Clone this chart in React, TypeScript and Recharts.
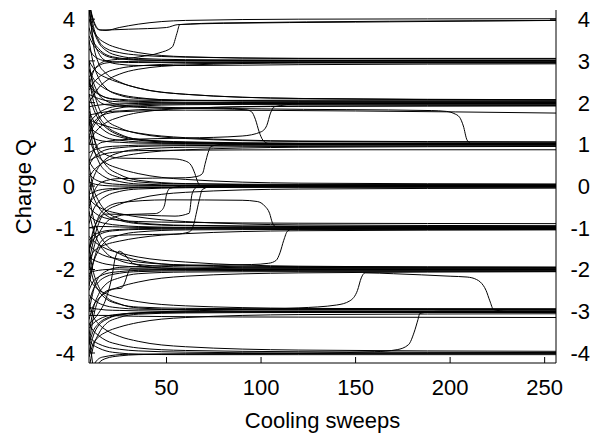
import React from 'react';
import { LineChart, Line, XAxis, YAxis } from 'recharts';

type Pair = [number, number];

// sweeps at which the ordinary (non-tunnelling) runs were read off
const sweepGrid = [9, 11, 14, 18, 25, 35, 60, 120, 256];

const xTicks = [50, 100, 150, 200, 250];
const yTicks = [-4, -3, -2, -1, 0, 1, 2, 3, 4];

// runs that settle on a plateau, values at sweepGrid
const settleTo3 = [
  [4.5, 3.9, 3.5, 3.3, 3.2, 3.14, 3.09, 3.06, 3.05],
  [4.2, 3.8, 3.45, 3.25, 3.12, 3.06, 3.03, 3.02, 3.02],
  [3.8, 3.5, 3.3, 3.15, 3.07, 3.03, 3.0, 2.99, 2.99],
  [3.3, 3.15, 3.05, 3.0, 2.97, 2.96, 2.96, 2.96, 2.96],
  [2.3, 2.45, 2.6, 2.72, 2.82, 2.88, 2.93, 2.96, 2.97],
  [2.6, 2.75, 2.88, 2.95, 2.98, 2.99, 3.0, 3.0, 3.0],
  [4.3, 3.6, 3.2, 3.0, 2.92, 2.89, 2.89, 2.91, 2.93],
  [4.0, 3.75, 3.55, 3.42, 3.3, 3.2, 3.1, 3.06, 3.06],
  [2.0, 2.15, 2.35, 2.52, 2.68, 2.8, 2.9, 2.95, 2.95],
  [3.6, 3.4, 3.25, 3.12, 3.05, 3.02, 3.01, 3.01, 3.01],
];

const settleTo2 = [
  [4.4, 3.5, 2.95, 2.7, 2.5, 2.35, 2.2, 2.1, 2.07],
  [3.0, 2.85, 2.7, 2.6, 2.48, 2.35, 2.2, 2.1, 2.06],
  [2.8, 2.6, 2.45, 2.32, 2.2, 2.12, 2.05, 2.03, 2.03],
  [2.5, 2.35, 2.22, 2.12, 2.06, 2.03, 2.01, 2.0, 2.0],
  [2.2, 2.15, 2.1, 2.05, 2.02, 2.01, 1.99, 1.98, 1.98],
  [1.5, 1.62, 1.75, 1.85, 1.92, 1.95, 1.97, 1.97, 1.97],
  [1.2, 1.4, 1.6, 1.76, 1.87, 1.92, 1.95, 1.96, 1.96],
  [1.9, 1.92, 1.94, 1.96, 1.97, 1.98, 1.99, 1.99, 1.99],
  [3.5, 3.0, 2.6, 2.35, 2.18, 2.1, 2.06, 2.04, 2.04],
  [1.0, 1.2, 1.38, 1.52, 1.65, 1.76, 1.86, 1.92, 1.93],
  [2.4, 2.3, 2.2, 2.12, 2.08, 2.06, 2.05, 2.06, 2.07],
  [1.7, 1.72, 1.75, 1.78, 1.8, 1.83, 1.87, 1.91, 1.92],
];

const settleTo1 = [
  [3.0, 2.4, 1.9, 1.6, 1.4, 1.26, 1.14, 1.07, 1.05],
  [2.2, 1.9, 1.6, 1.4, 1.22, 1.12, 1.05, 1.02, 1.02],
  [1.8, 1.6, 1.45, 1.3, 1.18, 1.1, 1.04, 1.01, 1.0],
  [1.5, 1.35, 1.25, 1.16, 1.1, 1.06, 1.03, 1.01, 1.0],
  [0.2, 0.35, 0.48, 0.6, 0.7, 0.78, 0.87, 0.93, 0.95],
  [0.5, 0.65, 0.78, 0.87, 0.92, 0.95, 0.97, 0.98, 0.98],
  [0.8, 0.85, 0.9, 0.94, 0.96, 0.98, 0.99, 0.99, 0.99],
  [1.2, 1.15, 1.1, 1.07, 1.05, 1.03, 1.02, 1.01, 1.01],
  [2.6, 2.1, 1.7, 1.45, 1.25, 1.12, 1.06, 1.03, 1.03],
  [-0.2, 0.15, 0.45, 0.65, 0.8, 0.88, 0.93, 0.95, 0.96],
  [0.6, 0.66, 0.72, 0.78, 0.82, 0.85, 0.86, 0.87, 0.87],
  [1.6, 1.55, 1.5, 1.44, 1.36, 1.27, 1.16, 1.08, 1.06],
];

const settleTo0 = [
  [2.0, 1.3, 0.8, 0.5, 0.28, 0.14, 0.06, 0.04, 0.04],
  [1.2, 0.9, 0.7, 0.55, 0.42, 0.3, 0.16, 0.07, 0.05],
  [0.6, 0.45, 0.32, 0.2, 0.11, 0.05, 0.02, 0.0, 0.0],
  [0.3, 0.2, 0.12, 0.07, 0.04, 0.02, 0.01, 0.0, -0.01],
  [-0.4, -0.3, -0.2, -0.12, -0.07, -0.04, -0.03, -0.03, -0.03],
  [-0.9, -0.6, -0.38, -0.24, -0.13, -0.07, -0.04, -0.02, -0.02],
  [-1.5, -1.1, -0.8, -0.6, -0.44, -0.3, -0.15, -0.07, -0.05],
  [0.1, 0.06, 0.03, 0.01, 0.0, 0.0, 0.01, 0.01, 0.01],
  [1.6, 1.0, 0.6, 0.35, 0.2, 0.1, 0.05, 0.03, 0.03],
  [-0.2, -0.15, -0.1, -0.07, -0.05, -0.03, -0.02, -0.01, -0.01],
];

const settleToMinus1 = [
  [0.5, 0.0, -0.35, -0.6, -0.78, -0.88, -0.94, -0.96, -0.96],
  [-0.3, -0.4, -0.5, -0.58, -0.66, -0.74, -0.85, -0.93, -0.95],
  [-0.7, -0.78, -0.85, -0.9, -0.94, -0.97, -0.99, -1.0, -1.0],
  [-1.3, -1.2, -1.12, -1.07, -1.04, -1.02, -1.01, -1.01, -1.01],
  [-1.8, -1.6, -1.48, -1.4, -1.32, -1.24, -1.14, -1.07, -1.05],
  [-2.4, -1.9, -1.55, -1.32, -1.18, -1.1, -1.05, -1.04, -1.04],
  [-1.0, -0.98, -0.97, -0.97, -0.98, -0.99, -1.0, -1.0, -1.0],
  [0.2, -0.2, -0.5, -0.7, -0.82, -0.9, -0.95, -0.97, -0.97],
  [-1.5, -1.3, -1.18, -1.1, -1.06, -1.04, -1.03, -1.02, -1.02],
  [-0.5, -0.6, -0.7, -0.77, -0.82, -0.85, -0.87, -0.89, -0.9],
];

const settleToMinus2 = [
  [-0.6, -1.0, -1.35, -1.6, -1.78, -1.88, -1.94, -1.96, -1.96],
  [-1.2, -1.3, -1.4, -1.5, -1.6, -1.7, -1.82, -1.92, -1.95],
  [-1.7, -1.76, -1.82, -1.87, -1.91, -1.94, -1.97, -1.99, -1.99],
  [-2.5, -2.3, -2.18, -2.1, -2.05, -2.02, -2.01, -2.0, -2.0],
  [-3.2, -2.9, -2.7, -2.55, -2.42, -2.3, -2.16, -2.08, -2.05],
  [-3.6, -3.0, -2.6, -2.35, -2.2, -2.1, -2.06, -2.05, -2.05],
  [-2.1, -2.05, -2.02, -2.0, -1.99, -1.99, -1.99, -1.98, -1.98],
  [-1.4, -1.5, -1.6, -1.68, -1.75, -1.82, -1.89, -1.93, -1.94],
  [-2.8, -2.5, -2.3, -2.17, -2.09, -2.05, -2.03, -2.02, -2.02],
  [-0.2, -0.7, -1.1, -1.4, -1.62, -1.78, -1.9, -1.95, -1.96],
];

const settleToMinus3 = [
  [-1.5, -2.0, -2.4, -2.65, -2.82, -2.92, -2.96, -2.97, -2.97],
  [-2.2, -2.35, -2.48, -2.58, -2.68, -2.77, -2.87, -2.93, -2.95],
  [-3.8, -3.5, -3.3, -3.17, -3.09, -3.05, -3.02, -3.01, -3.01],
  [-4.4, -3.9, -3.55, -3.3, -3.15, -3.07, -3.04, -3.03, -3.03],
  [-3.1, -3.1, -3.1, -3.1, -3.11, -3.12, -3.13, -3.14, -3.15],
  [-2.6, -2.7, -2.8, -2.87, -2.92, -2.95, -2.96, -2.96, -2.96],
  [-3.4, -3.3, -3.2, -3.12, -3.07, -3.04, -3.02, -3.01, -3.0],
  [-1.8, -2.2, -2.5, -2.7, -2.83, -2.9, -2.93, -2.94, -2.94],
  [-2.9, -2.93, -2.95, -2.97, -2.98, -2.99, -3.0, -3.0, -3.0],
  [-4.1, -3.8, -3.62, -3.5, -3.38, -3.27, -3.15, -3.08, -3.06],
];

const settleToMinus4 = [
  [-2.8, -3.1, -3.3, -3.45, -3.6, -3.72, -3.85, -3.93, -3.96],
  [-3.3, -3.45, -3.58, -3.7, -3.8, -3.88, -3.94, -3.97, -3.99],
  [-3.6, -3.7, -3.78, -3.85, -3.91, -3.95, -3.98, -4.0, -4.0],
  [-5.0, -4.5, -4.25, -4.13, -4.07, -4.04, -4.02, -4.01, -4.01],
  [-3.7, -3.8, -3.88, -3.95, -4.0, -4.03, -4.04, -4.04, -4.04],
];

// runs read point by point: [sweep, Q]
const top4a: Pair[] = [[9, 4.4], [11, 4.0], [14, 3.75], [18, 3.73], [25, 3.8], [35, 3.88], [60, 3.97], [120, 4.0], [256, 4.01]];
const top4b: Pair[] = [[9, 4.4], [12, 3.9], [15, 3.74], [30, 3.76], [50, 3.8], [56, 3.87], [80, 3.9], [150, 3.93], [256, 3.97]];
const rise3to4: Pair[] = [[9, 2.4], [12, 2.8], [18, 3.0], [30, 3.06], [36, 3.1], [46, 3.19], [53, 3.33], [55.5, 3.66], [57, 3.87], [80, 3.91], [256, 3.97]];
const plateau175: Pair[] = [[9, 1.3], [12, 1.55], [16, 1.7], [25, 1.78], [60, 1.82], [150, 1.8], [256, 1.75]];
const drop2to1Late: Pair[] = [[9, 2.8], [12, 2.4], [16, 2.1], [25, 1.95], [40, 1.9], [100, 1.85], [190, 1.81], [198, 1.79], [202, 1.74], [205, 1.65], [207, 1.44], [209, 1.1], [212, 1.0], [256, 0.99]];
const drop2to1Early: Pair[] = [[9, 2.5], [12, 2.15], [18, 1.95], [40, 1.88], [80, 1.85], [92, 1.83], [95, 1.78], [97, 1.6], [99, 1.3], [101, 1.1], [104, 1.02], [256, 1.0]];
const rise1to2: Pair[] = [[9, 0.6], [12, 0.9], [16, 1.05], [30, 1.12], [60, 1.15], [90, 1.2], [100, 1.3], [103, 1.45], [105, 1.75], [107, 1.9], [120, 1.97], [256, 2.0]];
const rise0to1: Pair[] = [[9, -0.5], [12, -0.1], [16, 0.1], [25, 0.18], [60, 0.2], [66, 0.23], [69, 0.3], [70.5, 0.55], [72, 0.8], [73.5, 0.95], [80, 1.0], [256, 1.0]];
const fall07to0: Pair[] = [[9, 1.7], [12, 1.1], [16, 0.8], [25, 0.67], [54, 0.65], [60, 0.6], [63, 0.5], [65, 0.3], [66.5, 0.1], [68, 0.0], [90, 0.0], [256, 0.0]];
const riseM07to0a: Pair[] = [[9, -2.0], [12, -1.4], [16, -1.0], [22, -0.75], [30, -0.68], [44, -0.66], [47, -0.6], [49, -0.45], [50, -0.2], [52, -0.05], [60, 0.0], [256, -0.01]];
const riseM07to0b: Pair[] = [[9, -1.8], [12, -1.2], [17.5, -0.67], [40, -0.7], [54.5, -0.72], [62, -0.65], [63.5, -0.19], [66, -0.03], [80, 0.0], [256, 0.01]];
const riseM1to0: Pair[] = [[9, -2.2], [12, -1.7], [15, -1.35], [20, -1.2], [30, -1.17], [55, -1.15], [62, -1.1], [64.5, -0.9], [66, -0.6], [67.5, -0.3], [69, -0.08], [75, 0.0], [256, 0.0]];
const drop0toM1: Pair[] = [[9, -1.6], [12, -1.0], [16, -0.6], [25, -0.4], [50, -0.33], [90, -0.34], [98, -0.37], [102, -0.48], [104.5, -0.65], [106, -0.88], [108, -0.98], [130, -1.0], [256, -1.0]];
const riseM2toM1: Pair[] = [[9, -3.0], [12, -2.4], [16, -2.1], [25, -1.95], [60, -1.9], [95, -1.88], [104, -1.85], [108, -1.78], [110, -1.6], [112, -1.3], [114, -1.08], [118, -1.01], [256, -1.0]];
const spikeM2: Pair[] = [[9, -3.3], [14, -3.05], [18, -2.7], [21, -2.2], [23, -1.7], [25, -1.56], [28, -1.65], [32, -1.85], [45, -1.96], [80, -2.0], [256, -2.0]];
const riseM25toM2: Pair[] = [[9, -3.8], [12, -3.0], [16, -2.6], [21, -2.47], [26, -2.45], [28, -2.3], [29.5, -2.1], [31, -1.98], [50, -2.0], [256, -2.01]];
const hopM3toM2toM3: Pair[] = [[9, -4.0], [12, -3.5], [18, -3.2], [30, -3.05], [80, -2.97], [120, -2.92], [140, -2.85], [147, -2.75], [151, -2.5], [153, -2.2], [155, -2.08], [170, -2.1], [200, -2.16], [209, -2.18], [214, -2.24], [216, -2.3], [219, -2.5], [221, -2.75], [223, -2.96], [230, -3.0], [256, -3.0]];
const riseM4toM3: Pair[] = [[9, -4.6], [12, -4.25], [16, -4.1], [30, -4.03], [100, -4.02], [160, -3.97], [172, -3.92], [178, -3.8], [181, -3.5], [183, -3.2], [184, -3.05], [195, -3.0], [256, -3.0]];
const plungeBelow: Pair[] = [[9, -3.6], [10.5, -4.1], [12, -4.6], [20, -4.95], [256, -5.0]];

const pointRuns: Pair[][] = [
  top4a, top4b, rise3to4, plateau175, drop2to1Late, drop2to1Early, rise1to2,
  rise0to1, fall07to0, riseM07to0a, riseM07to0b, riseM1to0, drop0toM1,
  riseM2toM1, spikeM2, riseM25toM2, hopM3toM2toM3, riseM4toM3, plungeBelow,
];

const gridRuns = [
  ...settleTo3, ...settleTo2, ...settleTo1, ...settleTo0,
  ...settleToMinus1, ...settleToMinus2, ...settleToMinus3, ...settleToMinus4,
];

const runs = [
  ...gridRuns.map((vals) => vals.map((q, i) => ({ sweep: sweepGrid[i], q }))),
  ...pointRuns.map((pairs) => pairs.map(([sweep, q]) => ({ sweep, q }))),
];

const FONT = '"Liberation Sans", Arial, sans-serif';
const FS = 22;

export default function App() {
  return (
    <div style={{ position: 'absolute', left: 0, top: 0, width: 595, height: 435, background: '#fff' }}>
      <LineChart width={595} height={435} margin={{ top: 10, right: 0, bottom: 0, left: 0 }}>
        <XAxis
          xAxisId="bottom"
          type="number"
          dataKey="sweep"
          domain={[9, 256]}
          ticks={xTicks}
          allowDataOverflow
          height={72}
          axisLine={{ stroke: '#000' }}
          tickLine={{ stroke: '#000' }}
          tickSize={-6}
          tickMargin={22}
          tick={(p: any) => (
            <text x={p.x} y={p.y} dy="0.71em" textAnchor="middle" fontFamily={FONT} fontSize={FS} fill="#000">
              {p.payload.value}
            </text>
          )}
          label={{
            content: (p: any) => (
              <text
                x={p.viewBox.x + p.viewBox.width / 2}
                y={p.viewBox.y + 65}
                textAnchor="middle"
                fontFamily={FONT}
                fontSize={FS}
                fill="#000"
              >
                Cooling sweeps
              </text>
            ),
          }}
        />
        <XAxis
          xAxisId="top"
          orientation="top"
          type="number"
          dataKey="sweep"
          domain={[9, 256]}
          ticks={xTicks}
          allowDataOverflow
          height={0}
          axisLine={{ stroke: '#000' }}
          tickLine={{ stroke: '#000' }}
          tickSize={-6}
          tickFormatter={() => ''}
        />
        <YAxis
          yAxisId="left"
          type="number"
          domain={[-4.24, 4.22]}
          ticks={yTicks}
          allowDataOverflow
          width={89}
          axisLine={{ stroke: '#000' }}
          tickLine={{ stroke: '#000' }}
          tickSize={-6}
          tickMargin={20}
          tick={(p: any) => (
            <text x={p.x} y={p.y} dy="0.36em" textAnchor="end" fontFamily={FONT} fontSize={FS} fill="#000">
              {p.payload.value}
            </text>
          )}
          label={{
            content: (p: any) => {
              const cx = 23;
              const cy = p.viewBox.y + p.viewBox.height / 2;
              return (
                <text
                  x={cx}
                  y={cy}
                  dy="0.36em"
                  transform={`rotate(-90 ${cx} ${cy})`}
                  textAnchor="middle"
                  fontFamily={FONT}
                  fontSize={FS}
                  fill="#000"
                >
                  Charge Q
                </text>
              );
            },
          }}
        />
        <YAxis
          yAxisId="right"
          orientation="right"
          type="number"
          domain={[-4.24, 4.22]}
          ticks={yTicks}
          allowDataOverflow
          width={39}
          axisLine={{ stroke: '#000' }}
          tickLine={{ stroke: '#000' }}
          tickSize={-6}
          tickMargin={40}
          tick={(p: any) => (
            <text x={p.x} y={p.y} dy="0.36em" textAnchor="end" fontFamily={FONT} fontSize={FS} fill="#000">
              {p.payload.value}
            </text>
          )}
        />
        {runs.map((data, i) => (
          <Line
            key={i}
            data={data}
            dataKey="q"
            xAxisId="bottom"
            yAxisId="left"
            type="monotone"
            stroke="#000"
            strokeWidth={1}
            dot={false}
            activeDot={false}
            isAnimationActive={false}
          />
        ))}
      </LineChart>
    </div>
  );
}
